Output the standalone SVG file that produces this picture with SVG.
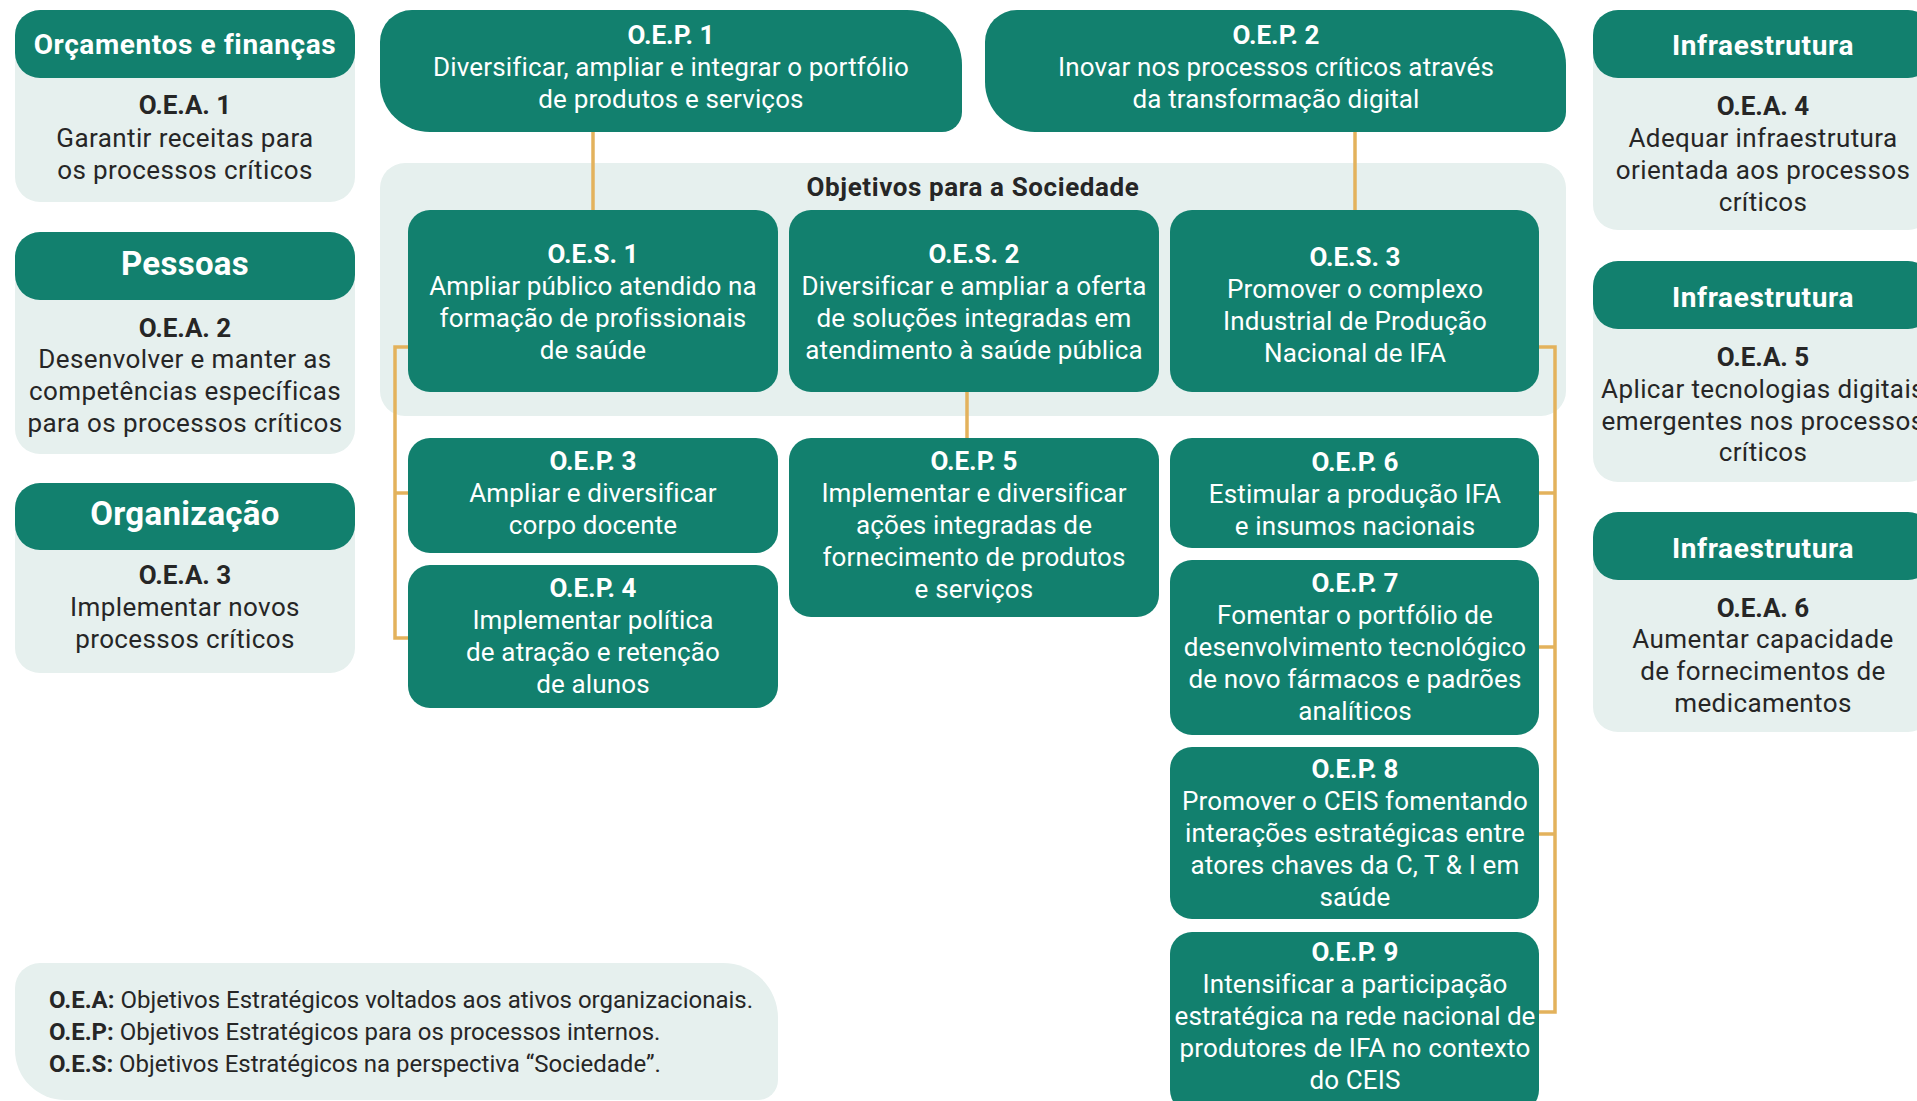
<svg xmlns="http://www.w3.org/2000/svg" width="1917" height="1101" viewBox="0 0 1917 1101">
<style>
.g{fill:#12806E}
.lb{fill:#E6F0EE}
text{font-family:Roboto,"Liberation Sans",sans-serif;text-anchor:middle}
.w{fill:#fff;font-size:26px;letter-spacing:0.15px}
.wb{fill:#fff;font-size:26px;font-weight:700}
.d{fill:#262626;font-size:26px;letter-spacing:0.4px}
.db{fill:#262626;font-size:26px;font-weight:700}
.hd{fill:#fff;font-size:28px;font-weight:700;letter-spacing:0.6px}
.hl{fill:#fff;font-size:33px;font-weight:700;letter-spacing:0.3px}
.lg{fill:#262626;font-size:24px;text-anchor:start}
.con{stroke:#E3B25C;stroke-width:3.5;fill:none}
</style>
<rect width="1917" height="1101" fill="#fff"/>

<g id="sociedade">
<rect class="lb" x="380" y="163" width="1186" height="253" rx="25"/>
<text class="db" x="973" y="196" style="letter-spacing:0.6px">Objetivos para a Sociedade</text>
</g>

<g id="connectors">
<path class="con" d="M593 132V210"/>
<path class="con" d="M1355 132V210"/>
<path class="con" d="M967 392V438"/>
<path class="con" d="M408 347H395V638H408M395 493H408"/>
<path class="con" d="M1539 347H1555V1012H1539M1555 493H1539M1555 647H1539M1555 834H1539"/>
</g>

<g id="oea1">
<rect class="lb" x="15" y="10" width="340" height="192" rx="25"/>
<rect class="g" x="15" y="10" width="340" height="68" rx="25"/>
<text class="hd" x="185" y="54">Orçamentos e finanças</text>
<text class="db" x="185" y="114">O.E.A. 1</text>
<text class="d" x="185" y="147">Garantir receitas para</text>
<text class="d" x="185" y="179">os processos críticos</text>
</g>

<g id="oea2">
<rect class="lb" x="15" y="232" width="340" height="222" rx="25"/>
<rect class="g" x="15" y="232" width="340" height="68" rx="25"/>
<text class="hl" x="185" y="275">Pessoas</text>
<text class="db" x="185" y="337">O.E.A. 2</text>
<text class="d" x="185" y="368">Desenvolver e manter as</text>
<text class="d" x="185" y="400">competências específicas</text>
<text class="d" x="185" y="432">para os processos críticos</text>
</g>

<g id="oea3">
<rect class="lb" x="15" y="483" width="340" height="190" rx="25"/>
<rect class="g" x="15" y="483" width="340" height="67" rx="25"/>
<text class="hl" x="185" y="525">Organização</text>
<text class="db" x="185" y="584">O.E.A. 3</text>
<text class="d" x="185" y="616">Implementar novos</text>
<text class="d" x="185" y="648">processos críticos</text>
</g>

<g id="oea4">
<rect class="lb" x="1593" y="10" width="340" height="220" rx="25"/>
<rect class="g" x="1593" y="10" width="340" height="68" rx="25"/>
<text class="hd" x="1763" y="55">Infraestrutura</text>
<text class="db" x="1763" y="115">O.E.A. 4</text>
<text class="d" x="1763" y="147">Adequar infraestrutura</text>
<text class="d" x="1763" y="179">orientada aos processos</text>
<text class="d" x="1763" y="211">críticos</text>
</g>

<g id="oea5">
<rect class="lb" x="1593" y="261" width="340" height="221" rx="25"/>
<rect class="g" x="1593" y="261" width="340" height="68" rx="25"/>
<text class="hd" x="1763" y="307">Infraestrutura</text>
<text class="db" x="1763" y="366">O.E.A. 5</text>
<text class="d" x="1763" y="398">Aplicar tecnologias digitais</text>
<text class="d" x="1763" y="430">emergentes nos processos</text>
<text class="d" x="1763" y="461">críticos</text>
</g>

<g id="oea6">
<rect class="lb" x="1593" y="512" width="340" height="220" rx="25"/>
<rect class="g" x="1593" y="512" width="340" height="68" rx="25"/>
<text class="hd" x="1763" y="558">Infraestrutura</text>
<text class="db" x="1763" y="617">O.E.A. 6</text>
<text class="d" x="1763" y="648">Aumentar capacidade</text>
<text class="d" x="1763" y="680">de fornecimentos de</text>
<text class="d" x="1763" y="712">medicamentos</text>
</g>

<g id="oep1">
<path class="g" d="M412 10H907A55 55 0 0 1 962 65V112A20 20 0 0 1 942 132H430A50 50 0 0 1 380 82V42A32 32 0 0 1 412 10Z"/>
<text class="wb" x="671" y="44">O.E.P. 1</text>
<text class="w" x="671" y="76">Diversificar, ampliar e integrar o portfólio</text>
<text class="w" x="671" y="108">de produtos e serviços</text>
</g>

<g id="oep2">
<path class="g" d="M1017 10H1511A55 55 0 0 1 1566 65V112A20 20 0 0 1 1546 132H1035A50 50 0 0 1 985 82V42A32 32 0 0 1 1017 10Z"/>
<text class="wb" x="1276" y="44">O.E.P. 2</text>
<text class="w" x="1276" y="76">Inovar nos processos críticos através</text>
<text class="w" x="1276" y="108">da transformação digital</text>
</g>

<g id="oes1">
<rect class="g" x="408" y="210" width="370" height="182" rx="22"/>
<text class="wb" x="593" y="263">O.E.S. 1</text>
<text class="w" x="593" y="295">Ampliar público atendido na</text>
<text class="w" x="593" y="327">formação de profissionais</text>
<text class="w" x="593" y="359">de saúde</text>
</g>

<g id="oes2">
<rect class="g" x="789" y="210" width="370" height="182" rx="22"/>
<text class="wb" x="974" y="263">O.E.S. 2</text>
<text class="w" x="974" y="295">Diversificar e ampliar a oferta</text>
<text class="w" x="974" y="327">de soluções integradas em</text>
<text class="w" x="974" y="359">atendimento à saúde pública</text>
</g>

<g id="oes3">
<rect class="g" x="1170" y="210" width="369" height="182" rx="22"/>
<text class="wb" x="1355" y="266">O.E.S. 3</text>
<text class="w" x="1355" y="298">Promover o complexo</text>
<text class="w" x="1355" y="330">Industrial de Produção</text>
<text class="w" x="1355" y="362">Nacional de IFA</text>
</g>

<g id="oep3">
<rect class="g" x="408" y="438" width="370" height="115" rx="22"/>
<text class="wb" x="593" y="470">O.E.P. 3</text>
<text class="w" x="593" y="502">Ampliar e diversificar</text>
<text class="w" x="593" y="534">corpo docente</text>
</g>

<g id="oep4">
<rect class="g" x="408" y="565" width="370" height="143" rx="22"/>
<text class="wb" x="593" y="597">O.E.P. 4</text>
<text class="w" x="593" y="629">Implementar política</text>
<text class="w" x="593" y="661">de atração e retenção</text>
<text class="w" x="593" y="693">de alunos</text>
</g>

<g id="oep5">
<rect class="g" x="789" y="438" width="370" height="179" rx="22"/>
<text class="wb" x="974" y="470">O.E.P. 5</text>
<text class="w" x="974" y="502">Implementar e diversificar</text>
<text class="w" x="974" y="534">ações integradas de</text>
<text class="w" x="974" y="566">fornecimento de produtos</text>
<text class="w" x="974" y="598">e serviços</text>
</g>

<g id="oep6">
<rect class="g" x="1170" y="438" width="369" height="110" rx="22"/>
<text class="wb" x="1355" y="471">O.E.P. 6</text>
<text class="w" x="1355" y="503">Estimular a produção IFA</text>
<text class="w" x="1355" y="535">e insumos nacionais</text>
</g>

<g id="oep7">
<rect class="g" x="1170" y="560" width="369" height="175" rx="22"/>
<text class="wb" x="1355" y="592">O.E.P. 7</text>
<text class="w" x="1355" y="624">Fomentar o portfólio de</text>
<text class="w" x="1355" y="656">desenvolvimento tecnológico</text>
<text class="w" x="1355" y="688">de novo fármacos e padrões</text>
<text class="w" x="1355" y="720">analíticos</text>
</g>

<g id="oep8">
<rect class="g" x="1170" y="747" width="369" height="172" rx="22"/>
<text class="wb" x="1355" y="778">O.E.P. 8</text>
<text class="w" x="1355" y="810">Promover o CEIS fomentando</text>
<text class="w" x="1355" y="842">interações estratégicas entre</text>
<text class="w" x="1355" y="874">atores chaves da C, T &amp; I em</text>
<text class="w" x="1355" y="906">saúde</text>
</g>

<g id="oep9">
<rect class="g" x="1170" y="932" width="369" height="180" rx="22"/>
<text class="wb" x="1355" y="961">O.E.P. 9</text>
<text class="w" x="1355" y="993">Intensificar a participação</text>
<text class="w" x="1355" y="1025" style="letter-spacing:0">estratégica na rede nacional de</text>
<text class="w" x="1355" y="1057">produtores de IFA no contexto</text>
<text class="w" x="1355" y="1089">do CEIS</text>
</g>

<g id="legend">
<path class="lb" d="M40 963H723A55 55 0 0 1 778 1018V1080A20 20 0 0 1 758 1100H65A50 50 0 0 1 15 1050V988A25 25 0 0 1 40 963Z"/>
<text class="lg" x="49" y="1008"><tspan font-weight="700">O.E.A:</tspan> Objetivos Estratégicos voltados aos ativos organizacionais.</text>
<text class="lg" x="49" y="1040"><tspan font-weight="700">O.E.P:</tspan> Objetivos Estratégicos para os processos internos.</text>
<text class="lg" x="49" y="1072"><tspan font-weight="700">O.E.S:</tspan> Objetivos Estratégicos na perspectiva “Sociedade”.</text>
</g>
</svg>
